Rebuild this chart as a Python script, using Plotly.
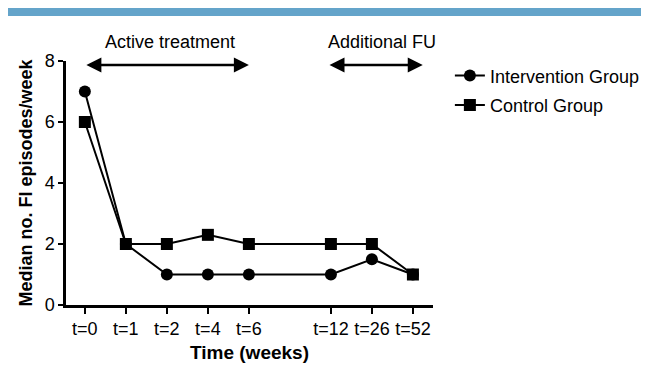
import plotly.graph_objects as go

# ---- data ----
time_labels = ["t=0", "t=1", "t=2", "t=4", "t=6", "t=12", "t=26", "t=52"]
time_slots = [0, 1, 2, 3, 4, 6, 7, 8]
intervention = [7, 2, 1, 1, 1, 1, 1.5, 1]
control = [6, 2, 2, 2.3, 2, 2, 2, 1]
y_ticks = [0, 2, 4, 6, 8]
phase_labels = ["Active treatment", "Additional FU"]

FONT = "Liberation Sans, Arial, sans-serif"

fig = go.Figure()
fig.add_trace(go.Scatter(
    x=time_slots, y=intervention, name="Intervention Group", legendgroup="a",
    mode="lines+markers", line=dict(color="black", width=2),
    marker=dict(symbol="circle", size=12, color="black"), cliponaxis=False))
fig.add_trace(go.Scatter(
    x=time_slots, y=control, name="Control Group", legendgroup="b",
    mode="lines+markers", line=dict(color="black", width=2),
    marker=dict(symbol="square", size=12, color="black"), cliponaxis=False))

arrow_y = 7.87
annotations = [
    dict(x=4, y=arrow_y, ax=0, ay=arrow_y, xref="x", yref="y", axref="x", ayref="y",
         showarrow=True, arrowhead=2, arrowside="end+start", arrowwidth=2.5,
         arrowsize=1.2, arrowcolor="black", text="", standoff=0, startstandoff=0),
    dict(x=8.24, y=arrow_y, ax=5.93, ay=arrow_y, xref="x", yref="y", axref="x", ayref="y",
         showarrow=True, arrowhead=2, arrowside="end+start", arrowwidth=2.5,
         arrowsize=1.2, arrowcolor="black", text="", standoff=0, startstandoff=0),
    dict(x=2.07, y=1.127, xref="x", yref="paper", text=phase_labels[0], showarrow=False,
         font=dict(family=FONT, size=18, color="black")),
    dict(x=7.24, y=1.127, xref="x", yref="paper", text=phase_labels[1], showarrow=False,
         font=dict(family=FONT, size=18, color="black")),
]

fig.update_layout(
    width=649, height=373,
    margin=dict(l=58, r=224, t=53, b=76, autoexpand=False),
    paper_bgcolor="white", plot_bgcolor="white",
    font=dict(family=FONT, size=18, color="black"),
    showlegend=True,
    legend=dict(x=1.046, y=1.015, xanchor="left", yanchor="top",
                font=dict(family=FONT, size=18, color="black"),
                bgcolor="rgba(0,0,0,0)", tracegroupgap=3),
    annotations=annotations,
    shapes=[dict(type="rect", xref="paper", yref="paper",
                 x0=-0.1608, x1=1.65, y0=1.184, y1=1.217,
                 fillcolor="#64a4ca", line=dict(width=0))],
)
fig.update_xaxes(
    range=[-0.46, 8.49], tickvals=time_slots, ticktext=time_labels,
    showline=True, linecolor="black", linewidth=2.5,
    ticks="outside", ticklen=6, tickwidth=2, tickcolor="black",
    showgrid=False, zeroline=False,
    tickfont=dict(family=FONT, size=18),
    title=dict(text="<b>Time (weeks)</b>", font=dict(family=FONT, size=19), standoff=8),
)
fig.update_yaxes(
    range=[0, 8], tickvals=y_ticks,
    showline=True, linecolor="black", linewidth=2.5,
    ticks="outside", ticklen=5, tickwidth=2, tickcolor="black",
    showgrid=False, zeroline=False,
    tickfont=dict(family=FONT, size=18),
    title=dict(text="<b>Median no. FI episodes/week</b>", font=dict(family=FONT, size=18), standoff=8),
)

fig.write_html("out.html")
